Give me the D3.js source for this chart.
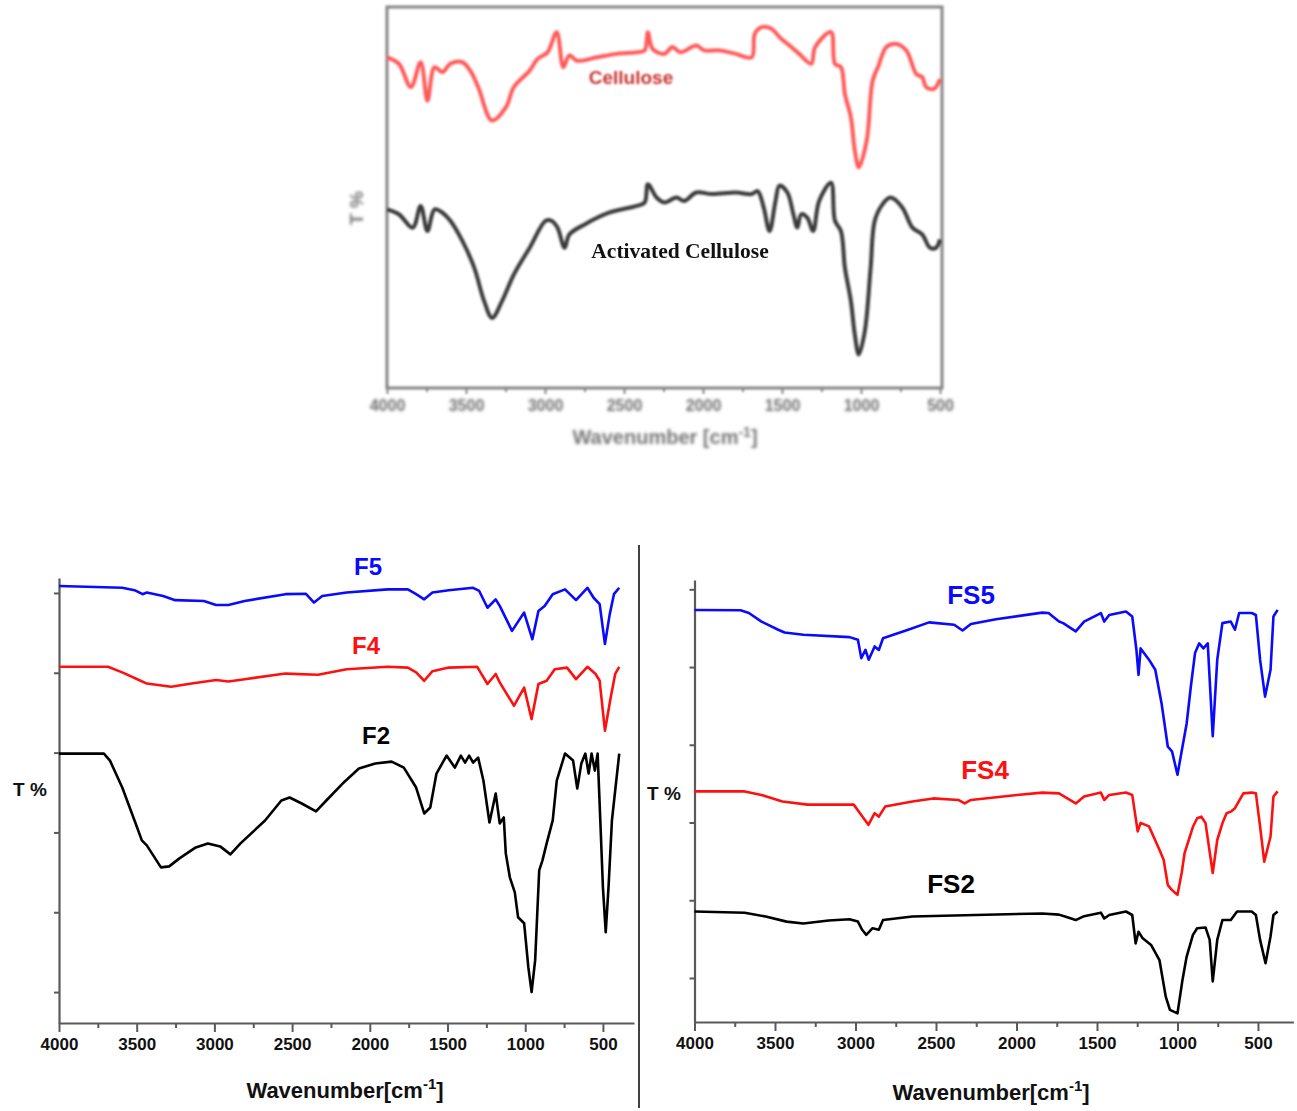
<!DOCTYPE html>
<html>
<head>
<meta charset="utf-8">
<script src="https://cdn.jsdelivr.net/npm/d3@7"></script>
<style>
  body { margin: 0; background: #fff; }
  svg { display: block; }
</style>
</head>
<body>
<div id="chart"></div>
<script>
// ---- data: [wavenumber cm-1, transmittance (arbitrary units)] ----
const cellulose = [
  [4000, 86.8], [3925, 85.1], [3849, 79.0], [3787, 85.5], [3744, 75.4], [3699, 84.2],
  [3649, 82.9], [3599, 85.1], [3523, 85.5], [3473, 83.3], [3423, 79.0], [3335, 70.2],
  [3247, 73.7], [3197, 79.0], [3097, 83.3], [3047, 86.4], [2984, 88.1], [2926, 93.4],
  [2884, 84.2], [2846, 87.3], [2796, 85.9], [2670, 86.8], [2545, 87.7], [2419, 88.1],
  [2369, 88.6], [2349, 93.4], [2319, 89.0], [2244, 87.7], [2194, 89.5], [2143, 88.1],
  [2043, 89.9], [1993, 88.6], [1892, 88.6], [1792, 87.7], [1692, 86.8], [1672, 93.0],
  [1629, 94.7], [1566, 94.3], [1516, 92.1], [1441, 89.5], [1391, 87.7], [1315, 85.1],
  [1290, 89.5], [1190, 93.4], [1165, 85.1], [1127, 84.2], [1102, 77.2], [1064, 71.0],
  [1039, 62.3], [1014, 57.9], [964, 64.9], [926, 80.7], [889, 84.6], [839, 89.5],
  [776, 90.3], [713, 88.6], [650, 82.4], [613, 81.6], [588, 79.0], [538, 78.5], [500, 81.1]
];
const activatedCellulose = [
  [4000, 46.9], [3925, 45.6], [3837, 42.1], [3787, 47.8], [3744, 41.2], [3699, 46.9],
  [3649, 46.0], [3599, 43.9], [3523, 38.6], [3448, 31.6], [3385, 22.8], [3335, 18.4],
  [3272, 22.8], [3197, 29.8], [3097, 36.8], [2996, 43.9], [2959, 43.9], [2921, 42.1],
  [2876, 36.8], [2846, 40.3], [2746, 43.0], [2595, 46.0], [2419, 47.8], [2369, 48.7],
  [2349, 53.5], [2294, 50.0], [2244, 48.7], [2168, 50.0], [2118, 49.1], [2043, 51.3],
  [1943, 50.9], [1792, 51.3], [1692, 50.9], [1654, 51.7], [1616, 47.4], [1579, 41.2],
  [1541, 49.1], [1516, 53.1], [1466, 51.3], [1428, 45.6], [1403, 42.1], [1378, 45.6],
  [1340, 44.7], [1303, 41.2], [1265, 49.1], [1190, 53.9], [1165, 43.9], [1127, 41.2],
  [1102, 31.6], [1064, 22.8], [1039, 14.0], [1014, 8.8], [976, 14.9], [939, 31.6],
  [913, 43.9], [864, 48.2], [814, 50.0], [739, 47.4], [675, 42.1], [613, 40.3],
  [563, 36.8], [525, 36.8], [500, 39.0]
];

const f5 = [
  [4000, 101.75], [3593, 101.3], [3514, 100.7], [3462, 99.7], [3435, 100.1], [3330, 99.25],
  [3252, 98.2], [3068, 98.0], [2989, 97.0], [2910, 97.0], [2805, 98.0], [2543, 99.7],
  [2411, 99.8], [2359, 97.6], [2306, 99.25], [2149, 100.1], [1886, 100.9], [1755, 100.9],
  [1702, 99.7], [1650, 98.4], [1597, 100.1], [1492, 100.7], [1335, 101.3], [1296, 100.5],
  [1243, 96.3], [1190, 98.4], [1164, 96.75], [1085, 90.5], [1007, 95.1], [954, 88.4],
  [915, 95.5], [875, 96.75], [823, 99.7], [744, 100.9], [673, 98.2], [600, 101.3],
  [560, 98.8], [521, 97.2], [487, 87.2], [456, 94.7], [429, 99.7], [395, 101.3]
];
const f4 = [
  [4000, 81.5], [3685, 81.5], [3593, 80.1], [3475, 78.0], [3435, 77.3], [3278, 76.5],
  [3147, 77.3], [2989, 78.2], [2910, 77.8], [2805, 78.4], [2543, 79.8], [2333, 79.5],
  [2149, 80.9], [1886, 81.5], [1755, 81.3], [1702, 80.1], [1650, 78.0], [1597, 80.4],
  [1492, 81.3], [1309, 81.5], [1243, 77.2], [1190, 79.7], [1164, 77.6], [1072, 71.75],
  [1007, 76.3], [959, 68.4], [915, 77.2], [862, 78.0], [810, 80.9], [731, 81.3],
  [673, 78.4], [600, 81.5], [547, 79.7], [521, 78.0], [487, 65.5], [450, 73.8],
  [421, 79.7], [395, 81.5]
];
const f2 = [
  [4000, 59.75], [3711, 59.75], [3672, 58.0], [3593, 51.25], [3514, 43.0], [3467, 38.0],
  [3435, 36.75], [3344, 31.25], [3291, 31.5], [3225, 33.5], [3120, 36.25], [3042, 37.25],
  [2963, 36.5], [2897, 34.5], [2832, 37.25], [2674, 43.0], [2569, 48.0], [2516, 48.75],
  [2438, 47.25], [2346, 45.25], [2280, 48.0], [2175, 52.25], [2070, 56.0], [1965, 57.25],
  [1860, 57.75], [1781, 56.25], [1702, 51.25], [1650, 44.75], [1611, 46.25], [1571, 54.75],
  [1506, 59.25], [1453, 56.25], [1414, 59.25], [1387, 57.5], [1361, 59.25], [1335, 57.5],
  [1303, 58.75], [1269, 53.0], [1230, 42.5], [1190, 49.75], [1164, 42.25], [1138, 43.75],
  [1125, 34.75], [1099, 28.75], [1067, 25.0], [1046, 18.75], [1007, 17.25], [980, 6.25],
  [959, 0.0], [936, 8.0], [910, 30.5], [889, 33.0], [862, 37.25], [823, 43.0],
  [797, 53.0], [744, 59.75], [692, 58.0], [665, 51.0], [639, 57.25], [613, 59.75],
  [592, 54.75], [573, 59.75], [552, 55.5], [534, 59.75], [516, 42.25], [500, 26.25],
  [482, 15.0], [464, 26.25], [442, 43.0], [395, 59.75]
];

const fs5 = [
  [4000, 94.7], [3714, 94.6], [3662, 93.9], [3584, 91.7], [3480, 89.6], [3441, 88.9],
  [3323, 88.3], [3037, 87.7], [2985, 87.0], [2964, 82.3], [2938, 84.4], [2918, 81.9],
  [2881, 85.3], [2855, 84.4], [2829, 87.4], [2673, 89.6], [2543, 91.5], [2387, 90.9],
  [2335, 89.4], [2283, 91.1], [2127, 92.3], [1840, 94.0], [1801, 93.9], [1736, 91.7],
  [1710, 91.3], [1632, 89.2], [1580, 91.7], [1476, 93.9], [1455, 91.7], [1424, 93.4],
  [1320, 94.3], [1281, 93.0], [1255, 84.4], [1242, 78.0], [1229, 84.8], [1177, 81.9],
  [1138, 79.3], [1099, 70.7], [1060, 59.5], [1034, 58.3], [1000, 52.3], [969, 59.5],
  [943, 65.5], [917, 75.0], [891, 83.6], [865, 86.1], [839, 84.8], [812, 86.1],
  [781, 62.2], [753, 81.9], [721, 91.3], [669, 91.7], [643, 89.6], [617, 93.9],
  [539, 93.9], [513, 93.4], [487, 81.9], [456, 72.4], [422, 79.3], [404, 93.0], [378, 94.7]
];
const fs4 = [
  [4000, 48.0], [3688, 48.0], [3584, 47.1], [3454, 45.4], [3297, 44.6], [3011, 44.6],
  [2972, 42.4], [2920, 39.4], [2881, 42.4], [2855, 41.5], [2816, 44.1], [2647, 45.4],
  [2517, 46.2], [2361, 45.8], [2322, 44.9], [2283, 45.8], [1997, 47.1], [1840, 47.7],
  [1736, 47.5], [1632, 44.9], [1580, 46.7], [1476, 47.7], [1455, 45.8], [1424, 47.1],
  [1320, 47.7], [1281, 47.1], [1247, 37.7], [1229, 39.9], [1177, 39.0], [1112, 33.0],
  [1086, 30.4], [1060, 23.9], [1034, 22.6], [1000, 21.4], [974, 27.0], [956, 32.1],
  [930, 35.5], [904, 38.9], [878, 41.1], [852, 41.5], [826, 39.9], [781, 27.0],
  [753, 35.5], [721, 39.8], [695, 42.4], [669, 42.8], [643, 43.7], [591, 47.5],
  [539, 47.7], [513, 47.5], [487, 39.0], [461, 29.9], [422, 36.4], [404, 46.7], [378, 48.0]
];
const fs2 = [
  [4000, 17.1], [3688, 16.8], [3558, 15.8], [3428, 14.5], [3324, 14.0], [3167, 14.8],
  [3037, 15.1], [2985, 14.5], [2959, 12.4], [2933, 11.1], [2894, 12.8], [2855, 12.4],
  [2829, 14.9], [2647, 15.8], [2257, 16.2], [1840, 16.6], [1736, 16.3], [1684, 15.6],
  [1632, 14.9], [1580, 15.9], [1476, 16.8], [1455, 15.3], [1424, 16.2], [1320, 17.1],
  [1281, 16.2], [1260, 8.9], [1242, 11.9], [1216, 10.2], [1164, 8.5], [1112, 4.6],
  [1073, -4.8], [1047, -8.2], [1000, -9.1], [969, -0.5], [943, 5.5], [904, 11.1],
  [878, 12.8], [826, 13.0], [800, 9.8], [781, -0.9], [753, 9.8], [721, 14.9],
  [669, 14.9], [630, 17.1], [539, 17.1], [513, 16.2], [487, 9.8], [453, 3.8],
  [422, 10.7], [404, 16.2], [378, 17.1]
];

const majorTicks = [4000, 3500, 3000, 2500, 2000, 1500, 1000, 500];
const minorTicks = [3750, 3250, 2750, 2250, 1750, 1250, 750];
const yTicks = [0, 20, 40, 60, 80, 100];

const W = 1297, H = 1111;
const svg = d3.select("#chart").append("svg").attr("width", W).attr("height", H);
const fmt = d3.format("d");

const defs = svg.append("defs");
defs.append("filter").attr("id", "soft")
  .append("feGaussianBlur").attr("stdDeviation", 0.8);
defs.append("filter").attr("id", "softer")
  .append("feGaussianBlur").attr("stdDeviation", 1.1);

// ================= top chart =================
const topG = svg.append("g").attr("filter", "url(#soft)");
const xT = d3.scaleLinear([4000, 500], [387, 940]);
const yT = d3.scaleLinear([0, 100], [388, 7]);
const grey = "#858585";

topG.append("g")
  .attr("transform", `translate(0,388)`)
  .call(d3.axisBottom(xT).tickValues(minorTicks).tickSize(4).tickFormat(""))
  .call(g => g.select(".domain").remove())
  .call(g => g.selectAll("line").attr("stroke", grey).attr("stroke-width", 2));
topG.append("g")
  .attr("transform", `translate(0,388)`)
  .call(d3.axisBottom(xT).tickValues(majorTicks).tickSize(6).tickPadding(6).tickFormat(fmt))
  .call(g => g.select(".domain").remove())
  .call(g => g.selectAll("line").attr("stroke", grey).attr("stroke-width", 2))
  .call(g => g.selectAll("text").attr("fill", "#707070").attr("filter", "url(#softer)")
    .attr("font-family", "Liberation Sans, Arial, sans-serif")
    .attr("font-weight", "bold").attr("font-size", 16));

topG.append("rect")
  .attr("x", 387).attr("y", 7).attr("width", 555).attr("height", 381)
  .attr("fill", "none").attr("stroke", grey).attr("stroke-width", 3);

const lineT = d3.line().x(d => xT(d[0])).y(d => yT(d[1])).curve(d3.curveCatmullRom);
topG.append("path").datum(cellulose).attr("d", lineT)
  .attr("fill", "none").attr("stroke", "#ff5a5a").attr("stroke-width", 4)
  .attr("stroke-linejoin", "round");
topG.append("path").datum(activatedCellulose).attr("d", lineT)
  .attr("fill", "none").attr("stroke", "#3a3a3a").attr("stroke-width", 4)
  .attr("stroke-linejoin", "round");

topG.append("text").attr("x", 631).attr("y", 84).attr("text-anchor", "middle")
  .attr("font-family", "Liberation Sans, Arial, sans-serif").attr("font-weight", "bold")
  .attr("font-size", 19).attr("fill", "#c93030").text("Cellulose");
svg.append("text").attr("x", 680).attr("y", 258).attr("text-anchor", "middle")
  .attr("font-family", "Liberation Serif, Times New Roman, serif").attr("font-weight", "bold")
  .attr("font-size", 21.5).attr("fill", "#111").text("Activated Cellulose");

topG.append("text")
  .attr("transform", "translate(363,208) rotate(-90)")
  .attr("text-anchor", "middle").attr("filter", "url(#softer)")
  .attr("font-family", "Liberation Sans, Arial, sans-serif").attr("font-weight", "bold")
  .attr("font-size", 19).attr("fill", "#777").text("T %");

const tt = topG.append("text").attr("x", 665).attr("y", 444).attr("text-anchor", "middle")
  .attr("filter", "url(#softer)")
  .attr("font-family", "Liberation Sans, Arial, sans-serif").attr("font-weight", "bold")
  .attr("font-size", 20).attr("fill", "#777");
tt.append("tspan").text("Wavenumber [cm");
tt.append("tspan").attr("font-size", 14).attr("dy", -7).text("-1");
tt.append("tspan").attr("dy", 7).text("]");

// ================= bottom panels =================
function drawPanel(p) {
  const g = svg.append("g");
  const x = d3.scaleLinear(p.xDomain, p.xRange);
  const y = d3.scaleLinear(p.yDomain, p.yRange);
  const axisCol = "#5a5a5a";

  // x axis
  g.append("g").attr("transform", `translate(0,${p.yRange[0]})`)
    .call(d3.axisBottom(x).tickValues(minorTicks).tickSize(5).tickFormat("").tickSizeOuter(0))
    .call(a => a.select(".domain").attr("stroke", axisCol).attr("stroke-width", 2.2))
    .call(a => a.selectAll(".tick line").attr("stroke", axisCol).attr("stroke-width", 2));
  g.append("g").attr("transform", `translate(0,${p.yRange[0]})`)
    .call(d3.axisBottom(x).tickValues(majorTicks).tickSize(9).tickPadding(6).tickFormat(fmt))
    .call(a => a.select(".domain").remove())
    .call(a => a.selectAll(".tick line").attr("stroke", axisCol).attr("stroke-width", 2))
    .call(a => a.selectAll("text").attr("fill", "#111")
      .attr("font-family", "Liberation Sans, Arial, sans-serif")
      .attr("font-weight", "bold").attr("font-size", 17));

  // y axis
  g.append("g").attr("transform", `translate(${p.xRange[0]},0)`)
    .call(d3.axisLeft(y).tickValues(yTicks).tickSize(5).tickFormat("").tickSizeOuter(0))
    .call(a => a.select(".domain").attr("stroke", axisCol).attr("stroke-width", 2.2))
    .call(a => a.selectAll(".tick line").attr("stroke", axisCol).attr("stroke-width", 2));

  const line = d3.line().x(d => x(d[0])).y(d => y(d[1]));
  p.series.forEach(s => {
    g.append("path").datum(s.data).attr("d", line)
      .attr("fill", "none").attr("stroke", s.color).attr("stroke-width", 2.6)
      .attr("stroke-linejoin", "round");
    g.append("text").attr("x", s.lx).attr("y", s.ly).attr("text-anchor", "middle")
      .attr("font-family", "Liberation Sans, Arial, sans-serif").attr("font-weight", "bold")
      .attr("font-size", p.labelSize).attr("fill", s.color).text(s.name);
  });

  g.append("text").attr("x", p.tx).attr("y", p.ty).attr("text-anchor", "middle")
    .attr("font-family", "Liberation Sans, Arial, sans-serif").attr("font-weight", "bold")
    .attr("font-size", 19).attr("fill", "#111").text("T %");

  const t = g.append("text").attr("x", p.axX).attr("y", p.axY).attr("text-anchor", "middle")
    .attr("font-family", "Liberation Sans, Arial, sans-serif").attr("font-weight", "bold")
    .attr("font-size", 22).attr("fill", "#111");
  t.append("tspan").text("Wavenumber[cm");
  t.append("tspan").attr("font-size", 15).attr("dy", -9).text("-1");
  t.append("tspan").attr("dy", 9).text("]");
}

drawPanel({
  xDomain: [4000, 300], xRange: [59, 634],
  yDomain: [-7.75, 103.75], yRange: [1023, 578],
  labelSize: 24,
  series: [
    { name: "F5", data: f5, color: "#0a0aff", lx: 368, ly: 575 },
    { name: "F4", data: f4, color: "#ff1010", lx: 366, ly: 654 },
    { name: "F2", data: f2, color: "#000", lx: 376, ly: 744 }
  ],
  tx: 30, ty: 796, axX: 345, axY: 1098
});

drawPanel({
  xDomain: [4000, 280], xRange: [694.5, 1293.4],
  yDomain: [-11.33, 102.4], yRange: [1022, 580],
  labelSize: 26,
  series: [
    { name: "FS5", data: fs5, color: "#0a0aff", lx: 971, ly: 604 },
    { name: "FS4", data: fs4, color: "#ff1010", lx: 985, ly: 779 },
    { name: "FS2", data: fs2, color: "#000", lx: 951, ly: 893 }
  ],
  tx: 664, ty: 800, axX: 991, axY: 1100
});

// divider between the two lower panels
svg.append("line").attr("x1", 639).attr("x2", 639).attr("y1", 545).attr("y2", 1108)
  .attr("stroke", "#111").attr("stroke-width", 1.6);
</script>
</body>
</html>
